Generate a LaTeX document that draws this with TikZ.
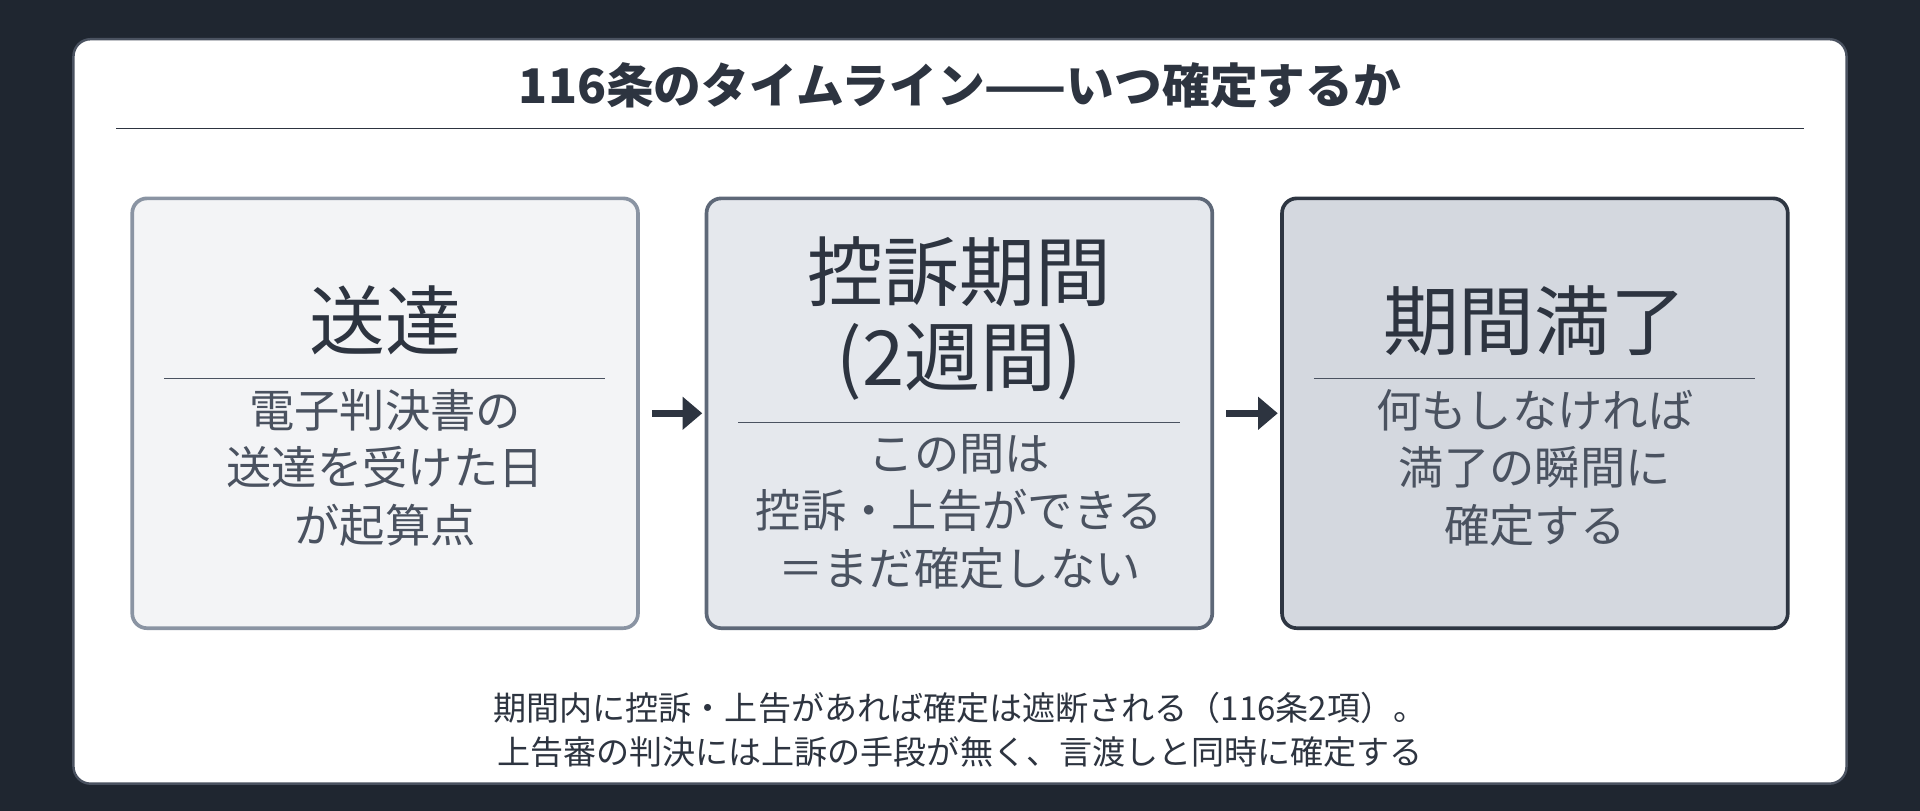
\documentclass[tikz,border=0pt]{standalone}
\usepackage{fontspec}
\setmainfont{Noto Sans CJK JP}
\usetikzlibrary{arrows.meta}
\definecolor{bg}{HTML}{1F2630}
\definecolor{ink}{HTML}{2D3440}
\definecolor{sub}{HTML}{4A5260}
\tikzset{x=1pt,y=-1pt,
 box/.style={rounded corners=12pt,line width=3pt},
 big/.style={font=\fontsize{62}{72}\selectfont,text=ink,align=center},
 small/.style={font=\fontsize{37}{47}\selectfont,text=sub,align=center},
 sep/.style={draw=sub,line width=1.2pt},
 arr/.style={line width=6pt,draw=ink,-{Triangle[length=16pt,width=26pt]}}}
\begin{document}
\begin{tikzpicture}
\fill[bg] (0,0) rectangle (1568,662);
\useasboundingbox (0,0) rectangle (1568,662);
\node[draw=sub,fill=white,rounded corners=14pt,line width=2pt,minimum width=1448pt,minimum height=608pt] (card) at (784,336) {};
\node[font=\bfseries\fontsize{39}{44}\selectfont,text=ink] (title) at (784,70) {116条のタイムライン——いつ確定するか};
\draw[ink,line width=1.5pt] (95,105) coordinate (t1) -- (1473,105) coordinate (t2);
\node[box,draw={rgb,255:red,138;green,148;blue,163},fill={rgb,255:red,243;green,244;blue,246},minimum width=413pt,minimum height=351pt] (b1) at (314.5,337.5) {};
\node[box,draw={rgb,255:red,94;green,104;blue,120},fill={rgb,255:red,229;green,232;blue,237},minimum width=413pt,minimum height=351pt] (b2) at (783.5,337.5) {};
\node[box,draw={rgb,255:red,46;green,54;blue,66},fill={rgb,255:red,212;green,216;blue,223},minimum width=413pt,minimum height=351pt] (b3) at (1253.5,337.5) {};
\node[big] (h1) at (314.5,262) {送達};
\draw[sep] (134,309) -- (494,309);
\node[small] (s1) at (314.5,382) {電子判決書の\\送達を受けた日\\が起算点};
\node[big,font=\fontsize{62}{70}\selectfont] (h2) at (783.5,260) {控訴期間\\(2週間)};
\draw[sep] (603,345) -- (964,345);
\node[small] (s2) at (783.5,418) {この間は\\控訴・上告ができる\\＝まだ確定しない};
\node[big] (h3) at (1253.5,262) {期間満了};
\draw[sep] (1073,309) -- (1433,309);
\node[small] (s3) at (1253.5,382) {何もしなければ\\満了の瞬間に\\確定する};
\draw[arr] ([xshift=10pt]b1.east) -- ([xshift=-2pt]b2.west);
\draw[arr] ([xshift=10pt]b2.east) -- ([xshift=-2pt]b3.west);
\node[font=\fontsize{27}{36}\selectfont,text=ink,align=center] (foot) at (784,596) {期間内に控訴・上告があれば確定は遮断される（116条2項）。\\上告審の判決には上訴の手段が無く、言渡しと同時に確定する};
\end{tikzpicture}
\end{document}
